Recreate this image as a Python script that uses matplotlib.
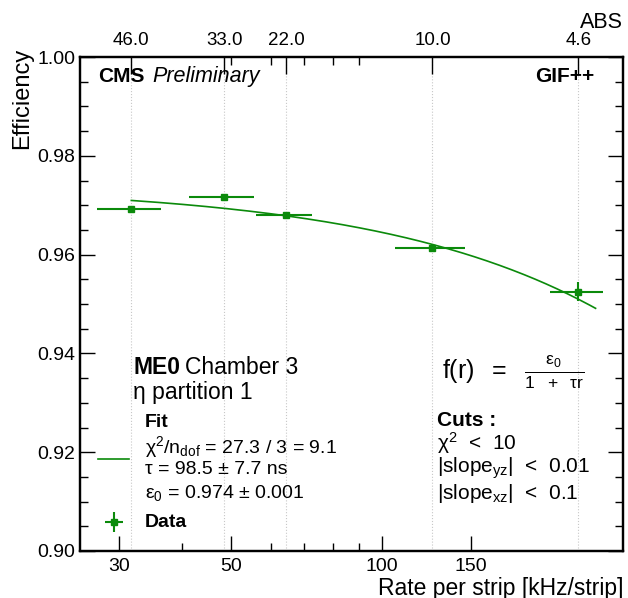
"""
ME0 chamber efficiency vs. rate per strip (GIF++), CMS-style plot.
"""

import numpy as np
import matplotlib
matplotlib.use("Agg")
import matplotlib.pyplot as plt
from matplotlib.ticker import FixedLocator, NullFormatter, FixedFormatter

plt.rcParams["font.family"] = ["Liberation Sans", "DejaVu Sans"]
plt.rcParams["mathtext.fontset"] = "custom"
plt.rcParams["mathtext.rm"] = "Liberation Sans"
plt.rcParams["mathtext.it"] = "Liberation Sans:italic"
plt.rcParams["mathtext.bf"] = "Liberation Sans:bold"

# Data points
rate = [31.7, 48.5, 64.4, 126.0, 245.8]          # kHz/strip
rate_err = [4.6, 7.2, 8.3, 20.0, 30.0]
eff = [0.9692, 0.9717, 0.9680, 0.9613, 0.9525]
eff_err = [0.0005, 0.0004, 0.0004, 0.0005, 0.0019]
abs_labels = ["46.0", "33.0", "22.0", "10.0", "4.6"]

# Fit parameters: f(r) = eps0 / (1 + tau * r)
eps0 = 0.974
tau_ns = 98.5
fit_range = (31.7, 266.0)

GREEN = "#0b8a0b"

fig = plt.figure(figsize=(6.28, 5.98), dpi=100)
ax = fig.add_axes([0.128, 0.0786, 0.864, 0.826])

# Fit curve
r_fit = np.geomspace(fit_range[0], fit_range[1], 300)
ax.plot(r_fit, eps0 / (1 + tau_ns * 1e-6 * r_fit), color=GREEN, lw=1.2, zorder=3)

# Data
ax.errorbar(rate, eff, xerr=rate_err, yerr=eff_err, fmt="s", color=GREEN,
            ms=5, lw=1.5, capsize=0, zorder=4)

ax.set_xscale("log")
ax.set_xlim(25.1, 301.6)
ax.set_ylim(0.90, 1.00)

# Grid lines at the measured points
for r in rate:
    ax.axvline(r, color="#c8c8c8", lw=0.8, ls=":", zorder=1)

# Bottom axis ticks
ax.xaxis.set_major_locator(FixedLocator([30, 50, 100, 150]))
ax.xaxis.set_major_formatter(FixedFormatter(["30", "50", "100", "150"]))
ax.xaxis.set_minor_locator(FixedLocator([40, 60, 70, 80, 90]))
ax.xaxis.set_minor_formatter(NullFormatter())
ax.set_yticks([0.90, 0.92, 0.94, 0.96, 0.98, 1.00])
ax.set_yticklabels(["0.90", "0.92", "0.94", "0.96", "0.98", "1.00"])
ax.yaxis.set_minor_locator(FixedLocator(np.arange(0.905, 1.0, 0.005)))
ax.tick_params(axis="both", which="major", direction="in", labelsize=14,
               length=11, width=1, right=True)
ax.tick_params(axis="both", which="minor", direction="in", length=6,
               width=1, right=True)
ax.tick_params(axis="x", which="both", top=False, pad=5)
for s in ax.spines.values():
    s.set_linewidth(1.6)

# Top axis: absorber settings
top = ax.twiny()
top.set_xscale("log")
top.set_xlim(ax.get_xlim())
top.xaxis.set_major_locator(FixedLocator(rate))
top.xaxis.set_major_formatter(FixedFormatter(abs_labels))
top.xaxis.set_minor_locator(FixedLocator([50, 60, 70, 80, 90]))
top.xaxis.set_minor_formatter(NullFormatter())
top.tick_params(axis="x", which="major", direction="in", labelsize=13.5,
                length=12, width=1, pad=6)
top.tick_params(axis="x", which="minor", direction="in", length=6, width=1)
for s in top.spines.values():
    s.set_linewidth(1.6)
fig.text(623 / 628, 1 - 22 / 598, "ABS", ha="right", va="center", fontsize=15.5)

# Axis titles
fig.text(22 / 628, 1 - 48 / 598, "Efficiency", rotation=90, ha="center",
         va="top", fontsize=17)
fig.text(623 / 628, 1 - 588 / 598, "Rate per strip [kHz/strip]", ha="right",
         va="center", fontsize=16.5)

# Header texts
ax.text(0.032, 0.96, "CMS", transform=ax.transAxes, fontsize=15,
        fontweight="bold", va="center")
ax.text(0.133, 0.96, "Preliminary", transform=ax.transAxes, fontsize=15.5,
        style="italic", va="center")
ax.text(0.948, 0.96, "GIF++", transform=ax.transAxes, fontsize=15,
        fontweight="bold", va="center", ha="right")

# Chamber label
ax.text(0.097, 0.3725, "ME0", transform=ax.transAxes, fontsize=16.5,
        fontweight="bold", va="center")
ax.text(0.192, 0.3725, "Chamber 3", transform=ax.transAxes, fontsize=16.5,
        va="center")
ax.text(0.097, 0.320, "η partition 1", transform=ax.transAxes, fontsize=16.5,
        va="center")

# Legend (manual)
lx = 0.119
ax.text(lx, 0.261, "Fit", transform=ax.transAxes, fontsize=14,
        fontweight="bold", va="center")
ax.text(lx, 0.2105, "χ$^2$/n$_{\\rm dof}$ = 27.3 / 3 = 9.1",
        transform=ax.transAxes, fontsize=14, va="center")
ax.text(lx, 0.164, "τ = 98.5 ± 7.7 ns", transform=ax.transAxes,
        fontsize=14, va="center")
ax.text(lx, 0.1174, "ε$_0$ = 0.974 ± 0.001", transform=ax.transAxes,
        fontsize=14, va="center")
ax.plot([0.032, 0.089], [0.186, 0.186], transform=ax.transAxes, color=GREEN,
        lw=1.2, clip_on=False)
ax.text(lx, 0.0587, "Data", transform=ax.transAxes, fontsize=14,
        fontweight="bold", va="center")
ax.errorbar([0.0618], [0.0587], xerr=[0.017], yerr=[0.02], fmt="s", ms=5,
            color=GREEN, lw=1.5, transform=ax.transAxes, clip_on=False)

# Fit function and cuts
ax.text(0.666, 0.3623,
        "f(r)  $=$  $\\frac{\\mathrm{ε_0}}{\\mathrm{1\\ \\ +\\ \\ τr}}$",
        transform=ax.transAxes, fontsize=18, va="center")
ax.text(0.657, 0.265, "Cuts :", transform=ax.transAxes, fontsize=15,
        fontweight="bold", va="center")
ax.text(0.657, 0.2186, "χ$^2$  <  10", transform=ax.transAxes, fontsize=15,
        va="center")
ax.text(0.657, 0.168, "|slope$_{\\rm yz}$|  <  0.01", transform=ax.transAxes,
        fontsize=15, va="center")
ax.text(0.657, 0.1174, "|slope$_{\\rm xz}$|  <  0.1", transform=ax.transAxes,
        fontsize=15, va="center")

fig.savefig("out.png", dpi=100)
